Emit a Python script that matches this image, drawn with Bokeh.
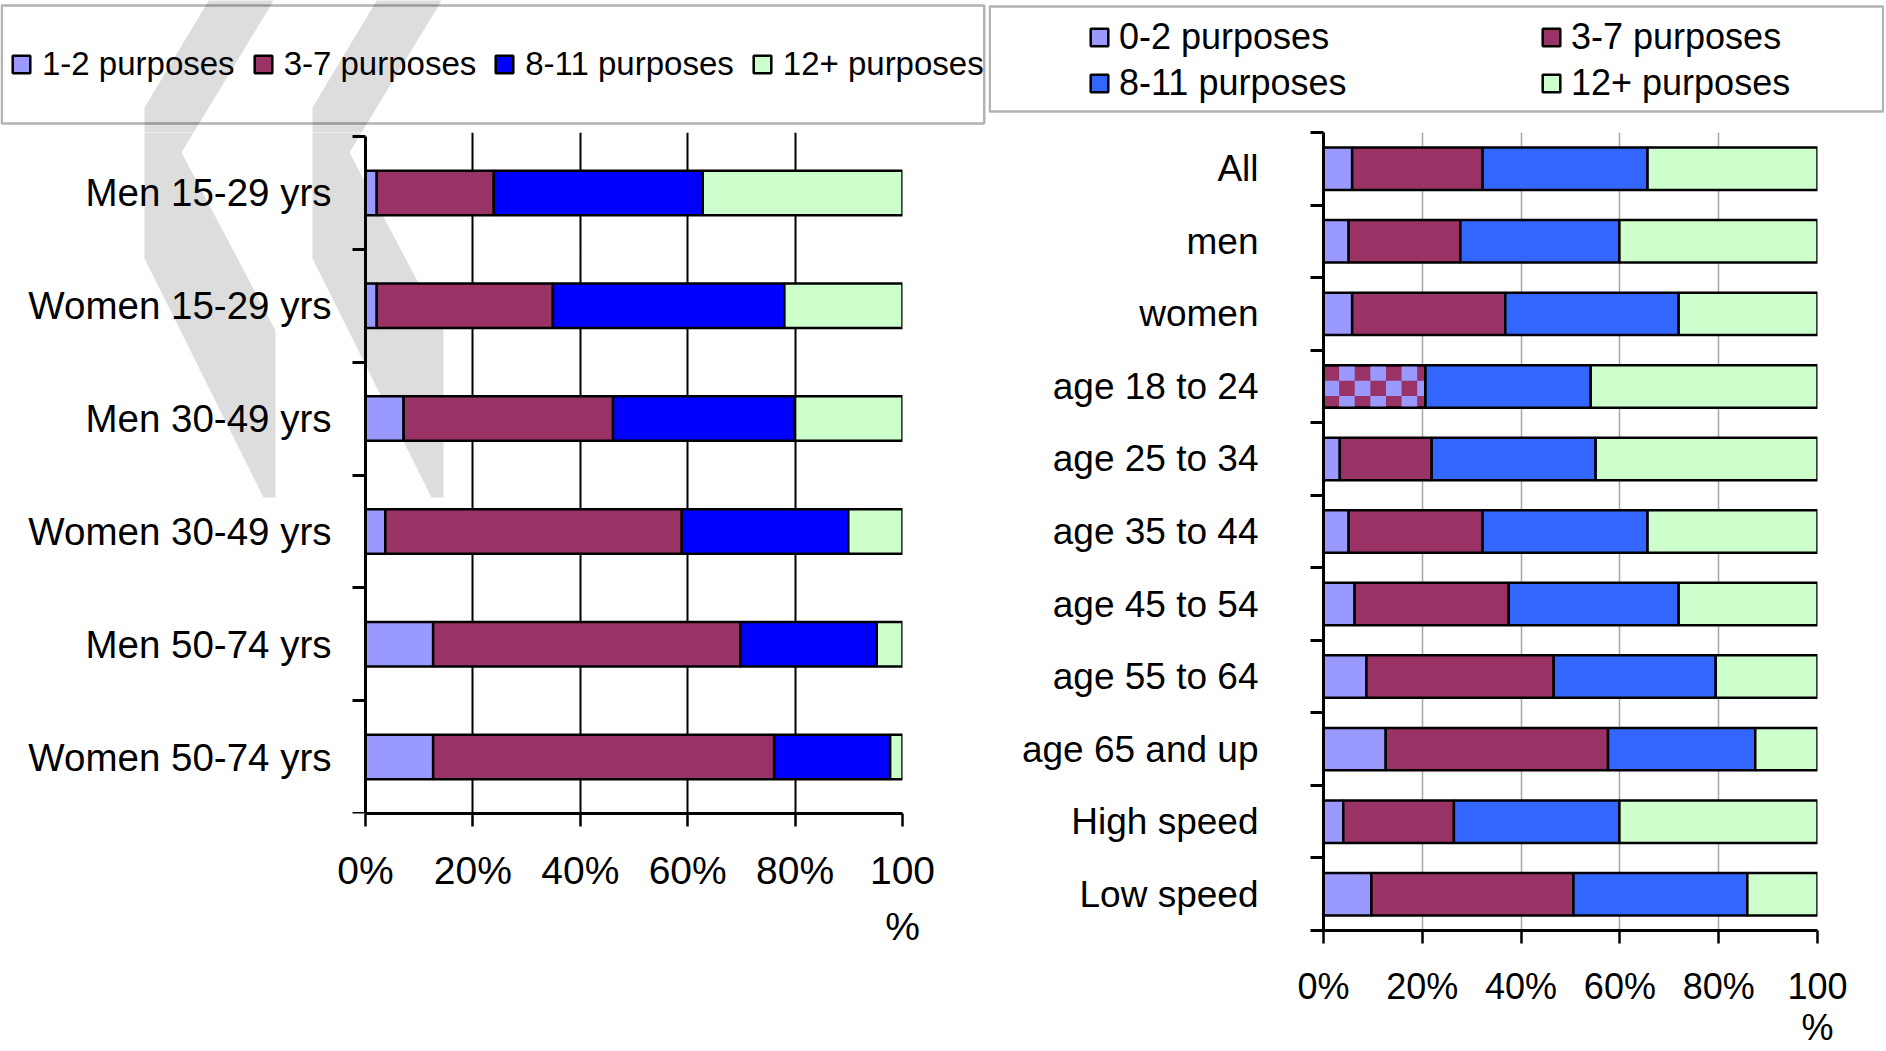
import numpy as np
from bokeh.plotting import figure
from bokeh.models import (Range1d, FixedTicker, Legend, LegendItem, BoxAnnotation,
                          PolyAnnotation, ColumnDataSource)
from bokeh.core.properties import value
from bokeh.layouts import row, column
from bokeh.embed import file_html
from bokeh.resources import INLINE

FONT = "Liberation Sans"

# ---------------- data ----------------
left_groups = ["Men 15-29 yrs", "Women 15-29 yrs", "Men 30-49 yrs",
               "Women 30-49 yrs", "Men 50-74 yrs", "Women 50-74 yrs"]
left_series = ["1-2 purposes", "3-7 purposes", "8-11 purposes", "12+ purposes"]
left_p1_2 = [2.1, 2.1, 7.1, 3.7, 12.6, 12.6]
left_p3_7 = [21.8, 32.8, 39.0, 55.2, 57.2, 63.5]
left_p8_11 = [38.9, 43.1, 33.9, 31.0, 25.4, 21.6]
left_p12 = [37.2, 22.0, 20.0, 10.1, 4.8, 2.3]
left_colors = ["#9999FF", "#993366", "#0000FF", "#CCFFCC"]

right_groups = ["All", "men", "women", "age 18 to 24", "age 25 to 34", "age 35 to 44",
                "age 45 to 54", "age 55 to 64", "age 65 and up", "High speed", "Low speed"]
right_series = ["0-2 purposes", "3-7 purposes", "8-11 purposes", "12+ purposes"]
right_p0_2 = [5.8, 5.1, 5.8, 0.0, 3.3, 5.1, 6.3, 8.7, 12.6, 4.0, 9.7]
right_p3_7 = [26.4, 22.6, 31.0, 20.6, 18.6, 27.1, 31.2, 37.9, 45.0, 22.4, 40.9]
right_p8_11 = [33.4, 32.2, 35.1, 33.5, 33.2, 33.4, 34.4, 32.8, 29.8, 33.5, 35.2]
right_p12 = [34.4, 40.1, 28.1, 45.9, 44.9, 34.4, 28.1, 20.6, 12.6, 40.1, 14.2]
right_mixed = ["age 18 to 24"]   # 0-2 and 3-7 shown together (checkered)
right_colors = ["#9999FF", "#993366", "#3366FF", "#CCFFCC"]

x_ticks = [0, 20, 40, 60, 80, 100]
x_tick_labels = ["0%", "20%", "40%", "60%", "80%", "100\n%"]

# ---------------- geometry (page pixels) ----------------
TOTAL_H = 1050
W_L, W_R = 988, 896
LEG_H_L, LEG_H_R = 132, 124
FL_L, FR_L, FT_L, FB_L = 365, 902, 136, 813      # left chart axes box
FL_R, FR_R, FT_R, FB_R = 335, 829, 132, 933      # right chart frame (x within right column)
LEFT_PAD = 8                                     # left chart frame starts here (page px)

# grey decorative chevrons (page pixels)
wm_shape = [(210, -3), (275, -3), (181, 152), (275, 330), (275, 497), (263, 497), (144, 258), (144, 107)]
wm_shift = 168
WM_COLOR = "#DDDDDD"

NAN1 = np.array([np.nan])


def style_xaxis(p, size, standoff, lh):
    xa = p.xaxis[0]
    xa.ticker = FixedTicker(ticks=x_ticks)
    xa.major_label_overrides = {t: l for t, l in zip(x_ticks, x_tick_labels)}
    xa.bounds = (x_ticks[0], x_ticks[-1])
    xa.axis_line_width = 3
    xa.major_tick_out = 13
    xa.major_tick_in = 0
    xa.major_tick_line_width = 2.5
    xa.minor_tick_line_color = None
    xa.major_label_text_font = FONT
    xa.major_label_text_font_size = size
    xa.major_label_text_color = "black"
    xa.major_label_text_line_height = lh
    xa.major_label_standoff = standoff


def style_yaxis(p, n, major):
    ya = p.yaxis[0]
    ya.ticker = FixedTicker(ticks=major, minor_ticks=list(range(0, 2 * n + 1, 2)))
    ya.bounds = (0, 2 * n)
    ya.axis_line_width = 3
    ya.major_tick_line_color = None
    ya.major_tick_out = 0
    ya.major_tick_in = 0
    ya.minor_tick_out = 13
    ya.minor_tick_in = 0
    ya.minor_tick_line_width = 3
    ya.minor_tick_line_color = "black"
    return ya


def legend_fig(width, height):
    p = figure(width=width, height=height, x_range=Range1d(0, 1), y_range=Range1d(0, 1),
               x_axis_type=None, y_axis_type=None, min_border=0, output_backend="svg",
               toolbar_location=None, frame_align=False)
    p.outline_line_color = None
    p.background_fill_color = "white"
    p.border_fill_color = "white"
    p.grid.visible = False
    return p


def legend_box(p, left, right, top, bottom):
    p.add_layout(BoxAnnotation(left=left, right=right, top=top, bottom=bottom,
                               left_units="canvas", right_units="canvas", top_units="canvas",
                               bottom_units="canvas", fill_color=None, fill_alpha=0,
                               line_color="black", line_width=2.5, level="overlay"))


def make_legend(items, orientation, location, spacing, standoff, size):
    return Legend(items=items, orientation=orientation, location=location, padding=0, margin=0,
                  spacing=spacing, glyph_width=22, glyph_height=22, label_standoff=standoff,
                  label_height=18, label_text_font=FONT, label_text_font_size=size,
                  label_text_color="black", label_text_baseline="middle",
                  border_line_color=None, background_fill_alpha=0)


# ================= left column =================
nL = len(left_groups)
ysl = [2 * i + 1 for i in range(nL)]
px_per_pct = (FR_L - FL_L) / 100.0
px_per_unit = (FB_L - FT_L) / (2.0 * nL)
ch_l_h = TOTAL_H - LEG_H_L
pl = figure(width=W_L, height=ch_l_h,
            x_range=Range1d(-(FL_L - LEFT_PAD) / px_per_pct, 100),
            y_range=Range1d(2 * nL, -(FT_L - LEG_H_L) / px_per_unit),
            output_backend="svg", toolbar_location=None, frame_align=False,
            min_border_left=LEFT_PAD, min_border_right=W_L - FR_L,
            min_border_top=0, min_border_bottom=ch_l_h - (FB_L - LEG_H_L))
pl.outline_line_color = None
pl.background_fill_color = None
pl.border_fill_color = "white"

# grey chevrons behind everything (inside this frame)
shapes = [[(x + dx, y) for x, y in wm_shape] for dx in (0, wm_shift)]
for shp in shapes:
    pl.add_layout(PolyAnnotation(xs=[x for x, _ in shp], ys=[y - LEG_H_L for _, y in shp],
                                 xs_units="canvas", ys_units="canvas", fill_color=WM_COLOR,
                                 fill_alpha=1.0, line_color=None, level="image"))

src_l = ColumnDataSource(dict(y=ysl, **{s: v for s, v in zip(left_series, [left_p1_2, left_p3_7, left_p8_11, left_p12])}))
rl = pl.hbar_stack(left_series, y="y", height=0.79, fill_color=left_colors,
                   line_color="black", line_width=2.5, source=src_l)
style_xaxis(pl, "39px", 22, 1.31)
yal = style_yaxis(pl, nL, [])
yal.fixed_location = 0
yal.major_label_standoff = 0
pl.xgrid.ticker = FixedTicker(ticks=x_ticks[1:])
pl.xgrid.grid_line_color = "black"
pl.xgrid.grid_line_width = 2
pl.ygrid.visible = False
# category names next to the axis
pl.text(x=[x_ticks[0]] * nL, y=ysl, text=left_groups, x_offset=-34, text_align="right",
        text_baseline="middle", text_font=value(FONT), text_font_size=value("38.5px"),
        text_color="black")

lgl = legend_fig(W_L, LEG_H_L)
for shp in shapes:
    lgl.add_layout(PolyAnnotation(xs=[x for x, _ in shp], ys=[y for _, y in shp],
                                  xs_units="canvas", ys_units="canvas", fill_color=WM_COLOR,
                                  fill_alpha=1.0, line_color=None, level="image"))
legend_box(lgl, 1.25, 983.75, 5, 123)
dummies_l = [lgl.hbar(y=NAN1, left=NAN1, right=NAN1, height=1, fill_color=c, line_color="black",
                      line_width=2.5) for c in left_colors]
lgl.add_layout(make_legend([LegendItem(label=s, renderers=[r]) for s, r in zip(left_series, dummies_l)],
                           "horizontal", (10, 49), 17, 10, "33px"))

# ================= right column =================
nR = len(right_groups)
ysr = [2 * i + 1 for i in range(nR)]
ch_r_h = TOTAL_H - LEG_H_R
pr = figure(width=W_R, height=ch_r_h, x_range=Range1d(0, 100), y_range=Range1d(2 * nR, 0),
            output_backend="svg", toolbar_location=None, frame_align=False,
            min_border_left=FL_R, min_border_right=W_R - FR_R,
            min_border_top=FT_R - LEG_H_R, min_border_bottom=ch_r_h - (FB_R - LEG_H_R))
pr.outline_line_color = None
pr.background_fill_color = None
pr.border_fill_color = "white"
src_r = ColumnDataSource(dict(y=ysr, **{s: v for s, v in zip(right_series, [right_p0_2, right_p3_7, right_p8_11, right_p12])}))
BAR_R = 1.17
rr = pr.hbar_stack(right_series, y="y", height=BAR_R, fill_color=right_colors,
                   line_color="black", line_width=2.5, source=src_r)
style_xaxis(pr, "36px", 22, 1.0)
yar = style_yaxis(pr, nR, ysr)
yar.major_label_overrides = {y: g for y, g in zip(ysr, right_groups)}
yar.major_label_text_font = FONT
yar.major_label_text_font_size = "37px"
yar.major_label_text_color = "black"
yar.major_label_standoff = 52
pr.xgrid.ticker = FixedTicker(ticks=x_ticks[1:])
pr.xgrid.grid_line_color = "#A6A6A6"
pr.xgrid.grid_line_width = 1.5
pr.ygrid.visible = False

# checkered segment where 0-2 and 3-7 are shown together
cell_w = 3.16
cell_h = 0.426
half = BAR_R / 2
cl, cr, ct, cb = [], [], [], []
ol, orr, ot, ob = [], [], [], []
for g in right_mixed:
    i = right_groups.index(g)
    seg = right_p0_2[i] + right_p3_7[i]
    top = ysr[i] - half
    bot = ysr[i] + half
    r_ = 0
    while top + r_ * cell_h < bot - 1e-9:
        c = 0
        while c * cell_w < seg - 1e-9:
            if (r_ + c) % 2 == 1:
                cl.append(c * cell_w)
                cr.append(min((c + 1) * cell_w, seg))
                ct.append(top + r_ * cell_h)
                cb.append(min(top + (r_ + 1) * cell_h, bot))
            c += 1
        r_ += 1
    ol.append(0)
    orr.append(seg)
    ot.append(top)
    ob.append(bot)
pr.quad(left=cl, right=cr, top=ct, bottom=cb, fill_color=right_colors[0], line_color=None)
pr.quad(left=ol, right=orr, top=ot, bottom=ob, fill_color=None, line_color="black",
        line_width=2.5)

lgr = legend_fig(W_R, LEG_H_R)
legend_box(lgr, 1.25, W_R - 1.25, 6, 111)
dummies_r = [lgr.hbar(y=NAN1, left=NAN1, right=NAN1, height=1, fill_color=c, line_color="black",
                      line_width=2.5) for c in right_colors]
for cols, vx in (([0, 2], 100), ([1, 3], 552)):
    lgr.add_layout(make_legend([LegendItem(label=right_series[k], renderers=[dummies_r[k]]) for k in cols],
                               "vertical", (vx, 20), 4, 9, "36px"))

layout = row(column(lgl, pl), column(lgr, pr))
with open("out.html", "w") as f:
    f.write(file_html(layout, INLINE))
